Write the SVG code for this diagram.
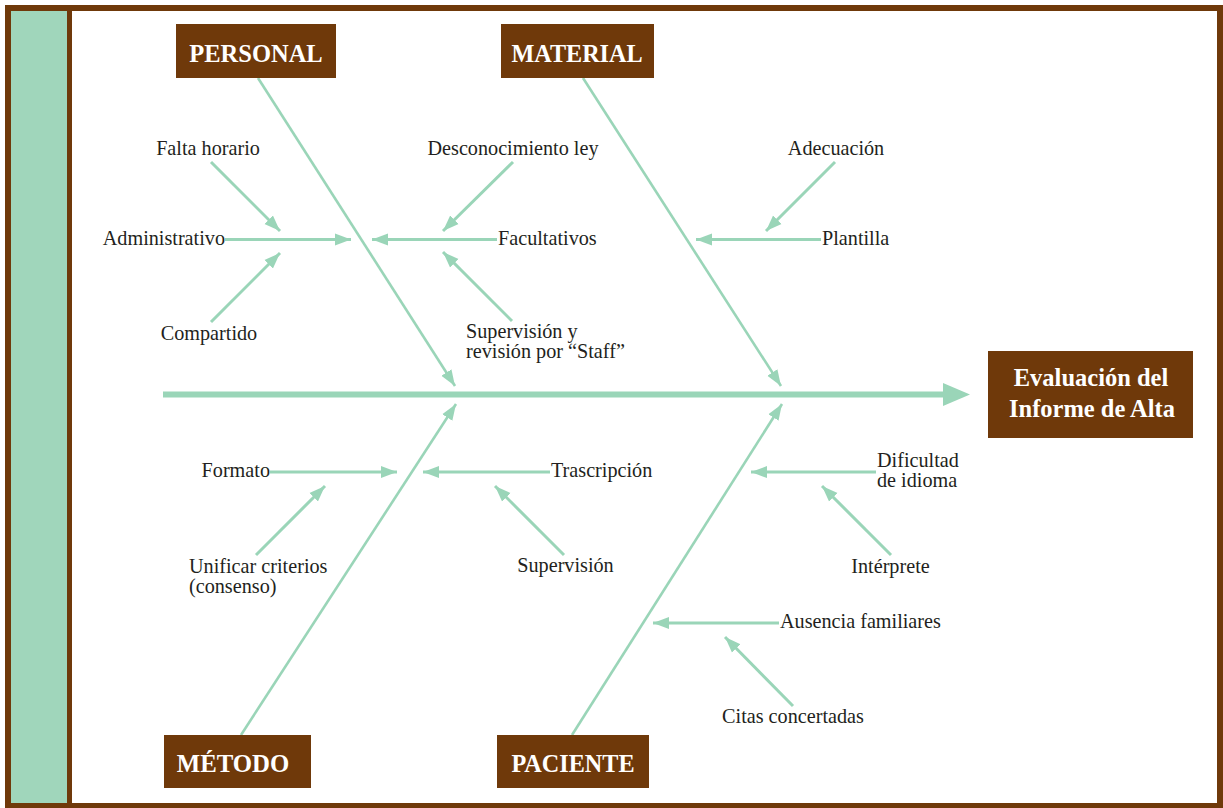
<svg xmlns="http://www.w3.org/2000/svg" width="1223" height="808" viewBox="0 0 1223 808">
<style>
.box{fill:#6F390A}
.bt{font-family:"Liberation Serif",serif;font-weight:bold;fill:#ffffff;text-anchor:middle}
.lb{font-family:"Liberation Serif",serif;font-size:20.2px;fill:#231F20}
.m{text-anchor:middle}
.e{text-anchor:end}
.sub{stroke:#9AD5B8;stroke-width:3;fill:none;marker-end:url(#ah)}
.bone{stroke:#9AD5B8;stroke-width:2.6;fill:none;marker-end:url(#bh)}
</style>
<defs>
<marker id="ah" markerUnits="userSpaceOnUse" markerWidth="17" markerHeight="13" refX="16" refY="6.5" orient="auto" viewBox="0 0 17 13">
<path d="M0,0.5 L16,6.5 L0,12.5 z" fill="#9AD5B8"/>
</marker>
<marker id="bh" markerUnits="userSpaceOnUse" markerWidth="17" markerHeight="13" refX="16" refY="6.5" orient="auto" viewBox="0 0 17 13">
<path d="M0,0.5 L16,6.5 L0,12.5 z" fill="#9AD5B8"/>
</marker>
</defs>
<rect x="0" y="0" width="1223" height="808" fill="#ffffff"/>
<rect x="11" y="11" width="56" height="792" fill="#A0D6BB"/>
<rect x="8" y="8" width="1212" height="798" fill="none" stroke="#6F390A" stroke-width="6"/>
<line x1="69.5" y1="11" x2="69.5" y2="803" stroke="#6F390A" stroke-width="5"/>

<g id="connectors">
<line x1="163" y1="394.5" x2="944" y2="394.5" stroke="#9AD5B8" stroke-width="6"/>
<polygon points="943,383 970,394.5 943,406" fill="#9AD5B8"/>
<line class="bone" x1="258" y1="78" x2="455" y2="386"/>
<line class="bone" x1="583" y1="78" x2="781" y2="386"/>
<line class="bone" x1="241" y1="735" x2="456" y2="404"/>
<line class="bone" x1="572" y1="735" x2="782" y2="404"/>
<line class="sub" x1="225" y1="239.5" x2="351" y2="239.5"/>
<line class="sub" x1="211" y1="162" x2="280" y2="231"/>
<line class="sub" x1="211" y1="322" x2="280" y2="253"/>
<line class="sub" x1="497" y1="239.5" x2="372" y2="239.5"/>
<line class="sub" x1="513" y1="162" x2="443" y2="231"/>
<line class="sub" x1="512" y1="321" x2="443" y2="252"/>
<line class="sub" x1="835" y1="162" x2="766" y2="231"/>
<line class="sub" x1="821" y1="239.5" x2="696" y2="239.5"/>
<line class="sub" x1="270" y1="472" x2="397" y2="472"/>
<line class="sub" x1="256" y1="555" x2="325" y2="486"/>
<line class="sub" x1="550" y1="472" x2="423" y2="472"/>
<line class="sub" x1="564" y1="555" x2="495" y2="486"/>
<line class="sub" x1="876" y1="472" x2="751" y2="472"/>
<line class="sub" x1="891" y1="555" x2="822" y2="486"/>
<line class="sub" x1="779" y1="623" x2="653" y2="623"/>
<line class="sub" x1="793" y1="706" x2="725" y2="637"/>
</g>

<g id="personal"><rect class="box" x="176" y="24" width="160" height="54"/><text class="bt" x="256" y="62" font-size="24.5">PERSONAL</text></g>
<g id="material"><rect class="box" x="501" y="24" width="153" height="54"/><text class="bt" x="577" y="62" font-size="24.2">MATERIAL</text></g>
<g id="metodo"><rect class="box" x="164" y="735" width="147" height="53"/><text class="bt" x="233" y="772" font-size="24.8">MÉTODO</text></g>
<g id="paciente"><rect class="box" x="497" y="735" width="152" height="53"/><text class="bt" x="573" y="772" font-size="24.2">PACIENTE</text></g>
<g id="efecto"><rect class="box" x="988" y="351" width="205" height="87"/><text class="bt" x="1091" y="386" font-size="24.5">Evaluación del</text><text class="bt" x="1092" y="417" font-size="24.5">Informe de Alta</text></g>

<g id="falta-horario"><text class="lb m" x="208" y="155">Falta horario</text></g>
<g id="administrativo"><text class="lb e" x="225" y="245">Administrativo</text></g>
<g id="compartido"><text class="lb m" x="209" y="340">Compartido</text></g>
<g id="desconocimiento"><text class="lb m" x="513" y="155">Desconocimiento ley</text></g>
<g id="facultativos"><text class="lb" x="498" y="245">Facultativos</text></g>
<g id="supervision-staff"><text class="lb" x="466" y="338">Supervisión y</text><text class="lb" x="466" y="358">revisión por “Staff”</text></g>
<g id="adecuacion"><text class="lb m" x="836" y="155">Adecuación</text></g>
<g id="plantilla"><text class="lb" x="822" y="245">Plantilla</text></g>
<g id="formato"><text class="lb e" x="270" y="477">Formato</text></g>
<g id="unificar"><text class="lb" x="189" y="573">Unificar criterios</text><text class="lb" x="189" y="593">(consenso)</text></g>
<g id="trascripcion"><text class="lb" x="551" y="477">Trascripción</text></g>
<g id="supervision"><text class="lb m" x="565.5" y="572">Supervisión</text></g>
<g id="dificultad"><text class="lb" x="877" y="467">Dificultad</text><text class="lb" x="877" y="487">de idioma</text></g>
<g id="interprete"><text class="lb m" x="890.5" y="573">Intérprete</text></g>
<g id="ausencia"><text class="lb" x="780" y="628">Ausencia familiares</text></g>
<g id="citas"><text class="lb m" x="793" y="723">Citas concertadas</text></g>
</svg>
